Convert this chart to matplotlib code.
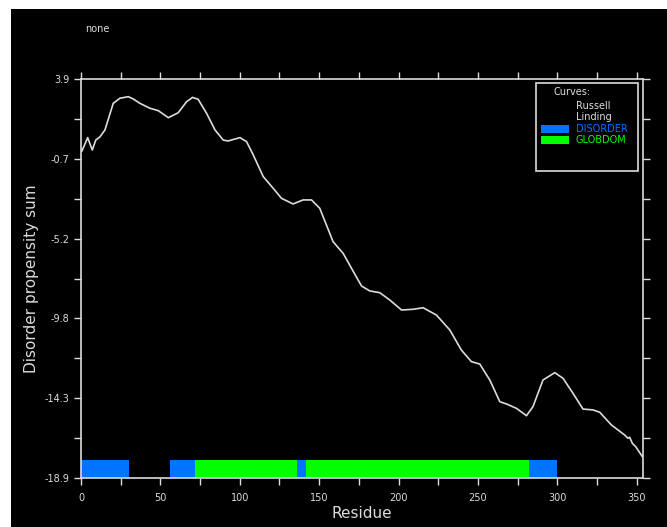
import matplotlib
matplotlib.use('Agg')
import matplotlib.pyplot as plt
from matplotlib.patches import Rectangle
from matplotlib.ticker import MultipleLocator, FixedLocator

# Russell/Linding disorder propensity curve
residue = [0.6, 4.2, 7.1, 9.3, 12.0, 15.1, 20.3, 24.5, 29.8, 32.9, 37.1, 43.4, 48.7,
           55.0, 61.2, 66.5, 70.3, 73.8, 79.1, 84.4, 89.6, 92.7, 100.1, 104.3, 108.5,
           114.8, 121.1, 126.3, 133.6, 139.9, 145.2, 150.4, 158.8, 165.1, 170.4, 176.7,
           181.9, 188.2, 194.5, 201.9, 209.2, 215.5, 223.9, 232.3, 239.6, 245.9, 251.2,
           257.5, 263.8, 268.0, 274.3, 280.6, 284.7, 291.0, 298.4, 303.6, 309.9, 316.2,
           322.5, 326.7, 334.1, 342.4, 344.5, 345.6, 347.3, 349.4, 350.8, 353.6]
propensity = [-0.21, 0.55, -0.16, 0.41, 0.60, 0.99, 2.51, 2.80, 2.89, 2.76, 2.51, 2.23, 2.09,
              1.69, 1.97, 2.60, 2.85, 2.74, 1.94, 0.99, 0.41, 0.36, 0.55, 0.32, -0.44,
              -1.68, -2.35, -2.92, -3.24, -3.01, -3.01, -3.49, -5.40, -6.06, -6.92, -7.93,
              -8.21, -8.31, -8.73, -9.30, -9.26, -9.17, -9.59, -10.44, -11.59, -12.25, -12.39,
              -13.30, -14.54, -14.67, -14.92, -15.34, -14.82, -13.30, -12.88, -13.20, -14.06, -14.96,
              -15.01, -15.14, -15.87, -16.44, -16.63, -16.57, -16.92, -17.11, -17.30, -17.68]

# domain segments (start, end)
disorder = [(0, 30), (56, 72), (136, 142), (282, 300)]
globdom = [(72, 136), (142, 282)]

y_ticks = [-18.9, -14.34, -9.78, -5.22, -0.66, 3.9]
y_labels = ['-18.9', '-14.3', '-9.8', '-5.2', '-0.7', '3.9']

fg = '#dcdcdc'
blue = '#0073ff'
green = '#00ff00'

fig = plt.figure(figsize=(6.67, 5.27), dpi=100, facecolor='white')
fig.patches.append(Rectangle((11 / 667, 0), 1, 1 - 9 / 527, transform=fig.transFigure,
                             facecolor='black', edgecolor='none', zorder=-10))

ax = fig.add_axes([81 / 667, 49 / 527, 562 / 667, 399 / 527])
ax.set_facecolor('black')

ax.plot(residue, propensity, color=fg, lw=1.2, solid_joinstyle='round')

bar_h = 1.05
for s, e in disorder:
    ax.add_patch(Rectangle((s, -18.9), e - s, bar_h, facecolor=blue, edgecolor='none'))
for s, e in globdom:
    ax.add_patch(Rectangle((s, -18.9), e - s, bar_h, facecolor=green, edgecolor='none'))

ax.set_xlim(0, 354)
ax.set_ylim(-18.9, 3.9)

ax.xaxis.set_major_locator(MultipleLocator(50))
ax.xaxis.set_minor_locator(MultipleLocator(25))
ax.yaxis.set_major_locator(FixedLocator(y_ticks))
ax.set_yticklabels(y_labels)
ax.yaxis.set_minor_locator(FixedLocator([t + 2.28 for t in y_ticks[:-1]]))

for side in ['left', 'bottom', 'right', 'top']:
    ax.spines[side].set_color(fg)
    ax.spines[side].set_linewidth(1.2)
ax.tick_params(which='both', direction='out', colors=fg, length=5, width=1,
               top=True, right=True, labelsize=7)
ax.tick_params(axis='x', pad=6)

ax.set_xlabel('Residue', color=fg, fontsize=11, labelpad=2)
ax.set_ylabel('Disorder propensity sum', color=fg, fontsize=11, labelpad=4)

fig.text(85 / 667, 1 - 29 / 527, 'none', color=fg, fontsize=7, va='center')

# legend box
ax.add_patch(Rectangle((0.81, 0.769), 0.181, 0.221, transform=ax.transAxes,
                       facecolor='black', edgecolor=fg, lw=1.2))
ax.text(0.874, 0.967, 'Curves:', transform=ax.transAxes, color=fg, fontsize=7,
        ha='center', va='center')
ax.text(0.88, 0.932, 'Russell', transform=ax.transAxes, color=fg, fontsize=7, va='center')
ax.text(0.88, 0.905, 'Linding', transform=ax.transAxes, color=fg, fontsize=7, va='center')
ax.add_patch(Rectangle((0.818, 0.864), 0.05, 0.02, transform=ax.transAxes,
                       facecolor=blue, edgecolor='none'))
ax.text(0.88, 0.874, 'DISORDER', transform=ax.transAxes, color=blue, fontsize=7, va='center')
ax.add_patch(Rectangle((0.818, 0.836), 0.05, 0.02, transform=ax.transAxes,
                       facecolor=green, edgecolor='none'))
ax.text(0.88, 0.846, 'GLOBDOM', transform=ax.transAxes, color=green, fontsize=7, va='center')

plt.savefig('out.png', dpi=100, facecolor=fig.get_facecolor())
